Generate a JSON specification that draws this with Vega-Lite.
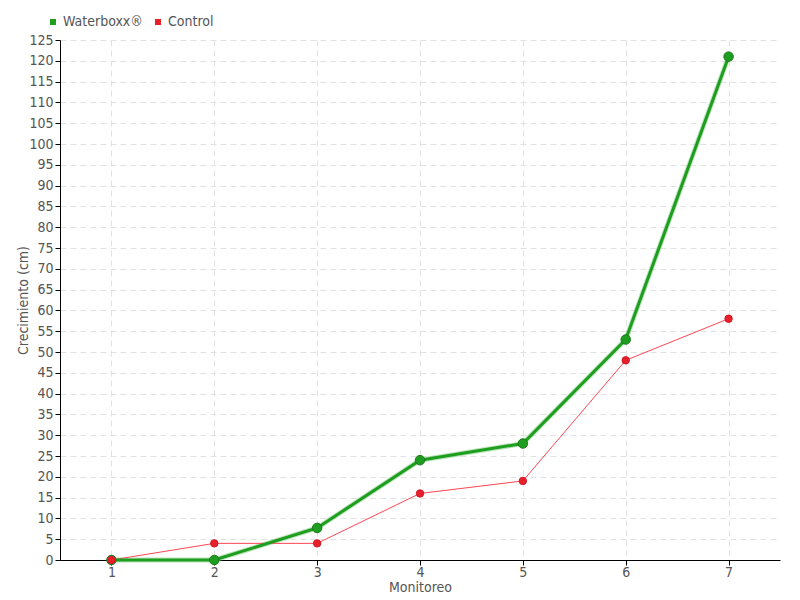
{
  "$schema": "https://vega.github.io/schema/vega-lite/v6.json",
  "width": 720,
  "height": 520,
  "autosize": "none",
  "padding": {"left": 60, "top": 40, "right": 20, "bottom": 40},
  "background": "white",
  "data": {"values": [
    {"monitoreo": 1, "serie": "Waterboxx®", "valor": 0},
    {"monitoreo": 2, "serie": "Waterboxx®", "valor": 0},
    {"monitoreo": 3, "serie": "Waterboxx®", "valor": 7.7},
    {"monitoreo": 4, "serie": "Waterboxx®", "valor": 24},
    {"monitoreo": 5, "serie": "Waterboxx®", "valor": 28},
    {"monitoreo": 6, "serie": "Waterboxx®", "valor": 53},
    {"monitoreo": 7, "serie": "Waterboxx®", "valor": 121},
    {"monitoreo": 1, "serie": "Control", "valor": 0},
    {"monitoreo": 2, "serie": "Control", "valor": 4},
    {"monitoreo": 3, "serie": "Control", "valor": 4},
    {"monitoreo": 4, "serie": "Control", "valor": 16},
    {"monitoreo": 5, "serie": "Control", "valor": 19},
    {"monitoreo": 6, "serie": "Control", "valor": 48},
    {"monitoreo": 7, "serie": "Control", "valor": 58}
  ]},
  "config": {
    "font": "DejaVu Sans Condensed",
    "view": {"stroke": null},
    "axis": {
      "labelFont": "DejaVu Sans Condensed",
      "titleFont": "DejaVu Sans Condensed",
      "labelColor": "#555555",
      "titleColor": "#555555",
      "labelFontSize": 14,
      "titleFontSize": 14,
      "titleFontWeight": "normal",
      "domainColor": "#000000",
      "tickColor": "#000000",
      "gridColor": "#e2e2e2",
      "gridDash": [6, 4],
      "labelOverlap": false
    }
  },
  "encoding": {
    "x": {
      "field": "monitoreo", "type": "quantitative",
      "scale": {"domain": [0.5, 7.5], "nice": false, "zero": false},
      "axis": {"title": "Monitoreo", "values": [1, 2, 3, 4, 5, 6, 7], "tickSize": 5, "labelPadding": 0, "titleY": 31, "titleBaseline": "alphabetic", "grid": true}
    },
    "y": {
      "field": "valor", "type": "quantitative",
      "scale": {"domain": [0, 125], "nice": false},
      "axis": {"title": "Crecimiento (cm)", "values": [0,5,10,15,20,25,30,35,40,45,50,55,60,65,70,75,80,85,90,95,100,105,110,115,120,125], "tickSize": 5, "labelPadding": 2, "titleX": -37, "titleBaseline": "middle", "grid": true}
    }
  },
  "layer": [
    {
      "transform": [{"filter": "datum.serie === 'Waterboxx®'"}],
      "mark": {"type": "line", "strokeWidth": 5, "opacity": 0.6},
      "encoding": {"color": {"value": "#8fd08f"}}
    },
    {
      "transform": [{"filter": "datum.serie === 'Control'"}],
      "mark": {"type": "line", "strokeWidth": 1},
      "encoding": {"color": {"value": "#ff4654"}}
    },
    {
      "transform": [{"filter": "datum.serie === 'Waterboxx®'"}],
      "mark": {"type": "line", "strokeWidth": 3},
      "encoding": {"color": {"field": "serie", "type": "nominal",
        "scale": {"domain": ["Waterboxx®", "Control"], "range": ["#1e9e1e", "#e8202a"]},
        "legend": {"title": null, "orient": "none", "direction": "horizontal", "legendX": -14, "legendY": -25, "symbolType": "square", "symbolSize": 36, "symbolStrokeWidth": 0, "symbolOpacity": 1, "labelFontSize": 14, "labelColor": "#555555", "labelFont": "DejaVu Sans Condensed", "columnPadding": 8, "labelOffset": 3}}}
    },
    {
      "transform": [{"filter": "datum.serie === 'Waterboxx®'"}],
      "mark": {"type": "point", "filled": true, "opacity": 1, "size": 90, "stroke": "#1a7a1a", "strokeWidth": 1},
      "encoding": {"color": {"field": "serie", "type": "nominal"}}
    },
    {
      "transform": [{"filter": "datum.serie === 'Control'"}],
      "mark": {"type": "point", "filled": true, "opacity": 1, "size": 55, "stroke": "#d01828", "strokeWidth": 1},
      "encoding": {"color": {"field": "serie", "type": "nominal"}}
    }
  ]
}
